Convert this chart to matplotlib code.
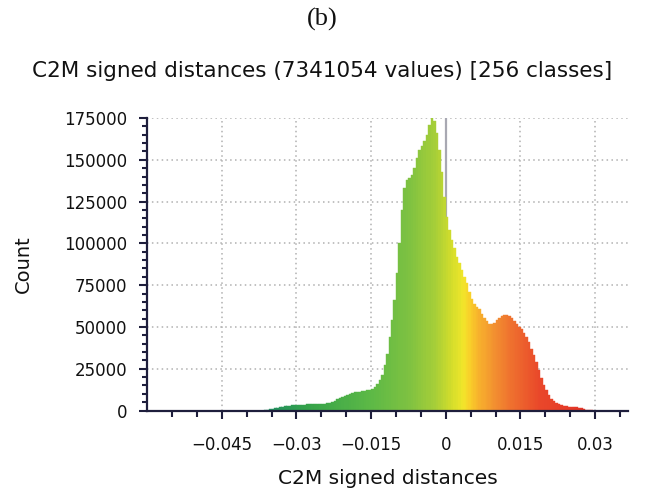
import numpy as np
import matplotlib
matplotlib.use("Agg")
import matplotlib.pyplot as plt
from matplotlib.colors import LinearSegmentedColormap, Normalize

# ---- data ----
bin_start = -0.0365
bin_width = 0.0005
counts = [
    200, 300, 700, 1000, 1300, 1600, 1900, 2200, 2500, 2700, 2900,
    3100, 3200, 3300, 3400, 3500, 3600, 3700, 3700, 3800, 3800,
    3900, 3900, 4000, 4100, 4300, 4600, 5200, 5900, 6700, 7300,
    8000, 8800, 9500, 10100, 10600, 10900, 11100, 11300, 11500, 11800,
    12200, 12500, 13000, 14200, 16000, 18500, 21500, 27000, 34000, 44000,
    54000, 66000, 82000, 100000, 120000, 133000, 138000, 139000, 141000, 145000,
    151000, 156000, 158000, 161000, 165000, 171000, 175000, 173000, 166000, 156000,
    143000, 128000, 116000, 108000, 102000, 97000, 92000, 88000, 84000, 80000,
    76000, 71000, 66500, 63500, 62000, 60500, 58000, 55500, 53500, 52000,
    51500, 52500, 54000, 55500, 56500, 57000, 57000, 56500, 55500, 53500,
    51500, 50000, 48500, 46500, 44000, 41000, 37000, 33000, 29000, 24500,
    19500, 15000, 12000, 9000, 7000, 5500, 4500, 3700, 3200,
    2800, 2600, 2400, 2300, 2200, 2000, 1700, 1300, 900, 600,
    300, 100,
]
x_major = [-0.045, -0.03, -0.015, 0.0, 0.015, 0.03]
x_labels = ["\u22120.045", "\u22120.03", "\u22120.015", "0", "0.015", "0.03"]
y_major = [0, 25000, 50000, 75000, 100000, 125000, 150000, 175000]
y_labels = ["0", "25000", "50000", "75000", "100000", "125000", "150000", "175000"]

suptitle = "(b)"
title = "C2M signed distances (7341054 values) [256 classes]"
xlabel = "C2M signed distances"
ylabel = "Count"

# colour scale (CloudCompare-like green -> yellow -> red)
cstops = [
    (-0.037, "#1f8d66"), (-0.028, "#34a24a"), (-0.015, "#5db946"),
    (-0.007, "#80c241"), (-0.002, "#a8cf38"), (0.001, "#cfdc2c"),
    (0.0035, "#f2e62a"), (0.005, "#f9cd2a"), (0.007, "#f7ae2d"),
    (0.010, "#f28e30"), (0.014, "#ee6b2e"), (0.019, "#e9482a"),
    (0.030, "#e22f26"),
]

# ---- figure ----
fig = plt.figure(figsize=(6.45, 4.93), dpi=100)
ax = fig.add_axes([0.228, 0.1673, 0.7456, 0.5933])

lo, hi = cstops[0][0], cstops[-1][0]
cmap = LinearSegmentedColormap.from_list(
    "c2m", [((v - lo) / (hi - lo), c) for v, c in cstops])
norm = Normalize(lo, hi)

counts = np.array(counts, dtype=float)
lefts = bin_start + bin_width * np.arange(len(counts))
centers = lefts + bin_width / 2
colors = cmap(norm(centers))

ax.axvline(0, color="#a8a8b2", lw=1.6, zorder=1)
ax.bar(lefts, counts, width=bin_width * 1.03, align="edge", color=colors,
       edgecolor=colors, linewidth=0.3, zorder=2)

ax.set_xlim(-0.06, 0.0366)
ax.set_ylim(0, 175000)

ax.set_xticks(x_major)
ax.set_xticklabels(x_labels)
ax.set_xticks(np.arange(-0.055, 0.0351, 0.005), minor=True)
ax.set_yticks(y_major)
ax.set_yticklabels(y_labels)
ax.set_yticks(np.arange(0, 175001, 5000), minor=True)

ax.grid(True, which="major", linestyle=(0, (1, 2.2)), color="#b0b0b0",
        lw=1.1, zorder=0)
ax.set_axisbelow(True)

navy = "#1e1e3c"
for s in ["top", "right"]:
    ax.spines[s].set_visible(False)
for s in ["left", "bottom"]:
    ax.spines[s].set_color(navy)
    ax.spines[s].set_linewidth(1.6)

ax.tick_params(axis="both", which="both", direction="out", color=navy,
               width=1.5, labelsize=12, labelcolor="#111111")
ax.tick_params(axis="y", which="major", length=6, pad=8)
ax.tick_params(axis="y", which="minor", length=3.5)
ax.tick_params(axis="x", which="major", length=6, pad=12)
ax.tick_params(axis="x", which="minor", length=4.5)

ax.set_xlabel(xlabel, fontsize=14.5, labelpad=11, color="#111111")
ax.set_ylabel(ylabel, fontsize=14, labelpad=23, color="#111111")

fig.text(0.5, 1 - 19 / 493, suptitle, ha="center", va="center",
         family="Liberation Serif", fontsize=19, color="#111111")
fig.text(0.5, 1 - 71 / 493, title, ha="center", va="center",
         family="DejaVu Sans", fontsize=15.5, color="#111111")

fig.savefig("out.png", dpi=100)
